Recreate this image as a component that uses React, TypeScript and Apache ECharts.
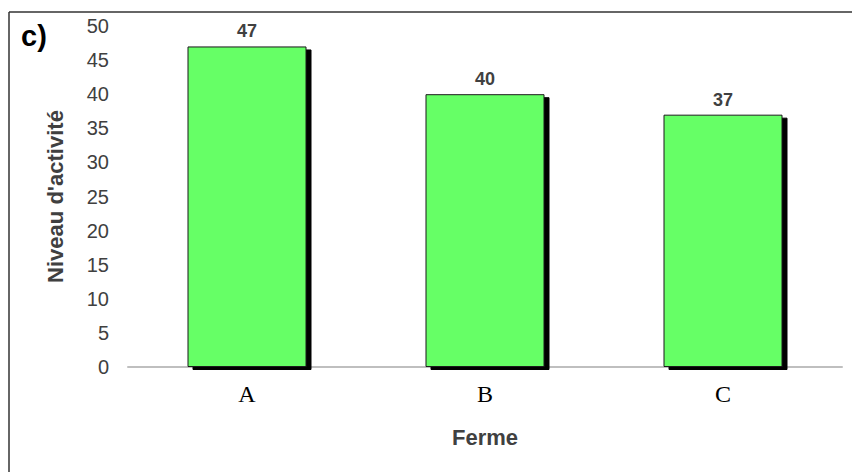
import React, { useEffect, useRef } from "react";
import * as echarts from "echarts";

const categories = ["A", "B", "C"];
const activityLevels = [47, 40, 37];
const yTicks = [0, 5, 10, 15, 20, 25, 30, 35, 40, 45, 50];

const SANS = "Arial, 'Liberation Sans', sans-serif";

export default function App() {
  const ref = useRef<HTMLDivElement>(null);

  useEffect(() => {
    if (!ref.current) return;
    const chart = echarts.init(ref.current, null, { renderer: "svg" });
    chart.setOption({
      animation: false,
      backgroundColor: "#ffffff",
      grid: { left: 128, right: 10, top: 26, bottom: 105 },
      graphic: [
        { type: "line", shape: { x1: 9, y1: 12, x2: 852, y2: 12 }, style: { stroke: "#333", lineWidth: 1.5 } },
        { type: "line", shape: { x1: 9, y1: 12, x2: 9, y2: 472 }, style: { stroke: "#333", lineWidth: 1.5 } },
        {
          type: "text",
          left: 21,
          top: 21,
          style: { text: "c)", font: "bold 29px Arial, 'Liberation Sans', sans-serif", fill: "#000" },
        },
      ],
      xAxis: {
        type: "category",
        data: categories,
        name: "Ferme",
        nameLocation: "middle",
        nameGap: 59,
        nameTextStyle: { fontFamily: SANS, fontWeight: "bold", fontSize: 22, color: "#404040" },
        axisLine: { lineStyle: { color: "#bfbfbf", width: 2 } },
        axisTick: { show: false },
        axisLabel: {
          margin: 15,
          fontFamily: "'Times New Roman', 'Liberation Serif', serif",
          fontSize: 24,
          color: "#000",
        },
      },
      yAxis: {
        type: "value",
        min: yTicks[0],
        max: yTicks[yTicks.length - 1],
        interval: 5,
        name: "Niveau d'activité",
        nameLocation: "middle",
        nameGap: 62,
        nameTextStyle: { fontFamily: SANS, fontWeight: "bold", fontSize: 22, color: "#404040" },
        axisLine: { show: false },
        axisTick: { show: false },
        splitLine: { show: false },
        axisLabel: {
          margin: 19,
          fontFamily: SANS,
          fontSize: 20,
          color: "#404040",
        },
      },
      series: [
        {
          type: "bar",
          data: activityLevels,
          barWidth: "50%",
          itemStyle: {
            color: "#66ff66",
            borderColor: "#1a1a1a",
            borderWidth: 1,
            shadowColor: "#000",
            shadowOffsetX: 5,
            shadowOffsetY: 3,
            shadowBlur: 0,
          },
          label: {
            show: true,
            position: "top",
            distance: 6,
            fontFamily: SANS,
            fontWeight: "bold",
            fontSize: 18,
            color: "#404040",
          },
        },
      ],
    });
    return () => chart.dispose();
  }, []);

  return <div ref={ref} style={{ width: 852, height: 472, position: "absolute", left: 0, top: 0 }} />;
}
